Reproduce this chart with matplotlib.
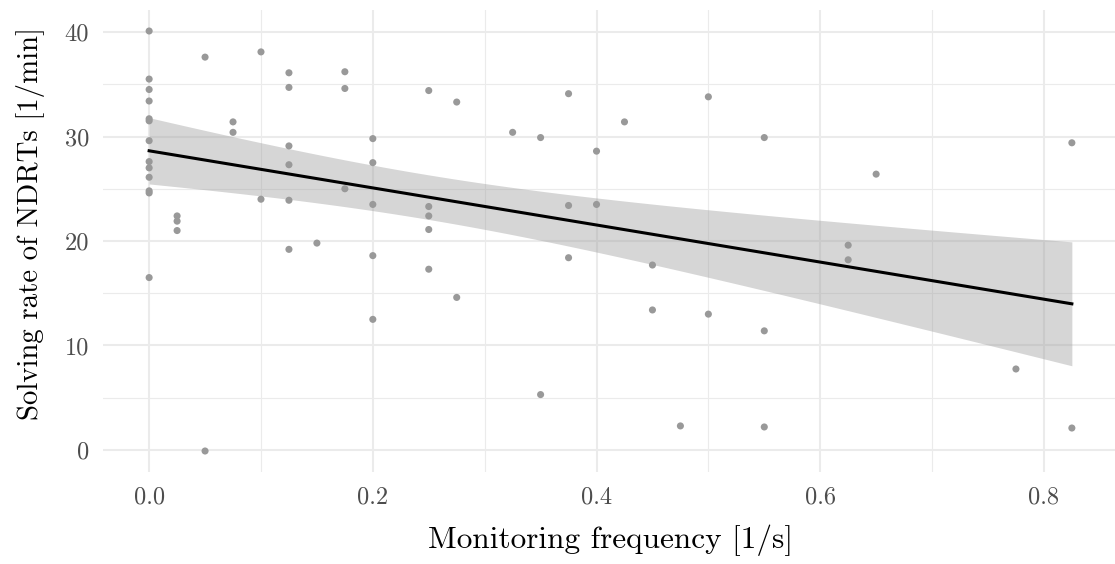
import numpy as np
import matplotlib
matplotlib.use("Agg")
import matplotlib.pyplot as plt
from matplotlib.ticker import MultipleLocator, FormatStrFormatter

# Monitoring frequency [1/s]
freq = [0.0] * 13 + [0.025] * 3 + [0.05] * 2 + [0.075] * 2 + [0.1] * 2 + \
       [0.125] * 6 + [0.15] + [0.175] * 3 + [0.2] * 5 + [0.25] * 5 + \
       [0.275] * 2 + [0.325] + [0.35] * 2 + [0.375] * 3 + [0.4] * 2 + \
       [0.425] + [0.45] * 2 + [0.475] + [0.5] * 2 + [0.55] * 3 + \
       [0.625] * 2 + [0.65] + [0.775] + [0.825] * 2

# Solving rate of NDRTs [1/min]
rate = [40.1, 35.5, 34.5, 33.4, 31.7, 31.5, 29.6, 27.6, 27.0, 26.1, 24.8, 24.6, 16.5,  # 0.0
        22.4, 21.9, 21.0,                      # 0.025
        37.6, -0.1,                            # 0.05
        31.4, 30.4,                            # 0.075
        38.1, 24.0,                            # 0.1
        36.1, 34.7, 29.1, 27.3, 23.9, 19.2,    # 0.125
        19.8,                                  # 0.15
        36.2, 34.6, 25.0,                      # 0.175
        29.8, 27.5, 23.5, 18.6, 12.5,          # 0.2
        34.4, 23.3, 22.4, 21.1, 17.3,          # 0.25
        33.3, 14.6,                            # 0.275
        30.4,                                  # 0.325
        29.9, 5.3,                             # 0.35
        34.1, 23.4, 18.4,                      # 0.375
        28.6, 23.5,                            # 0.4
        31.4,                                  # 0.425
        17.7, 13.4,                            # 0.45
        2.3,                                   # 0.475
        33.8, 13.0,                            # 0.5
        29.9, 11.4, 2.2,                       # 0.55
        19.6, 18.2,                            # 0.625
        26.4,                                  # 0.65
        7.75,                                  # 0.775
        29.4, 2.1]                             # 0.825

x_ticks = [0.0, 0.2, 0.4, 0.6, 0.8]
y_ticks = [0, 10, 20, 30, 40]

x = np.array(freq)
y = np.array(rate)

# linear model fit with 95% confidence band (like geom_smooth(method="lm"))
n = len(x)
b1, b0 = np.polyfit(x, y, 1)
resid = y - (b0 + b1 * x)
s = np.sqrt(np.sum(resid ** 2) / (n - 2))
xbar = x.mean()
sxx = np.sum((x - xbar) ** 2)
t_crit = 1.997  # t(0.975, df=65)
xs = np.linspace(x.min(), x.max(), 80)
ys = b0 + b1 * xs
se = s * np.sqrt(1.0 / n + (xs - xbar) ** 2 / sxx)

plt.rcParams['font.family'] = ['cmr10', 'DejaVu Serif']
plt.rcParams['axes.unicode_minus'] = False
plt.rcParams['mathtext.fontset'] = 'cm'

fig = plt.figure(figsize=(11.15, 5.64), dpi=100)
W, H = 1115, 564
left_px, right_px, top_px, bottom_px = 103, 1118, 10, 472
ax = fig.add_axes([left_px / W, (H - bottom_px) / H,
                   (right_px - left_px) / W, (bottom_px - top_px) / H])

ax.scatter(x, y, s=26, color='#999999', edgecolors='none', zorder=2)
ax.fill_between(xs, ys - t_crit * se, ys + t_crit * se, color='#999999',
                alpha=0.4, linewidth=0, zorder=3)
ax.plot(xs, ys, color='black', linewidth=2.2, zorder=4)

xr = x.max() - x.min()
yr = y.max() - y.min()
ax.set_xlim(x.min() - 0.05 * xr, x.max() + 0.05 * xr)
ax.set_ylim(y.min() - 0.05 * yr, y.max() + 0.05 * yr)

ax.set_xticks(x_ticks)
ax.set_yticks(y_ticks)
ax.xaxis.set_major_formatter(FormatStrFormatter('%.1f'))
ax.yaxis.set_major_formatter(FormatStrFormatter('%d'))
ax.xaxis.set_minor_locator(MultipleLocator(0.1))
ax.yaxis.set_minor_locator(MultipleLocator(5))

ax.grid(which='major', color='#EBEBEB', linewidth=1.5, zorder=0)
ax.grid(which='minor', color='#EBEBEB', linewidth=0.8, zorder=0)
ax.set_axisbelow(True)
for sp in ax.spines.values():
    sp.set_visible(False)
ax.tick_params(which='both', length=0)
ax.tick_params(axis='x', pad=10, labelsize=17.5, labelcolor='#4D4D4D')
ax.tick_params(axis='y', pad=10, labelsize=17.5, labelcolor='#4D4D4D')

ax.set_xlabel('Monitoring frequency [1/s]', fontsize=22.5, color='black', labelpad=12)
ax.set_ylabel('Solving rate of NDRTs [1/min]', fontsize=20.8, color='black', labelpad=14)
ax.yaxis.label.set_y((bottom_px - 224) / (bottom_px - top_px))

fig.savefig('out.png', dpi=100)
